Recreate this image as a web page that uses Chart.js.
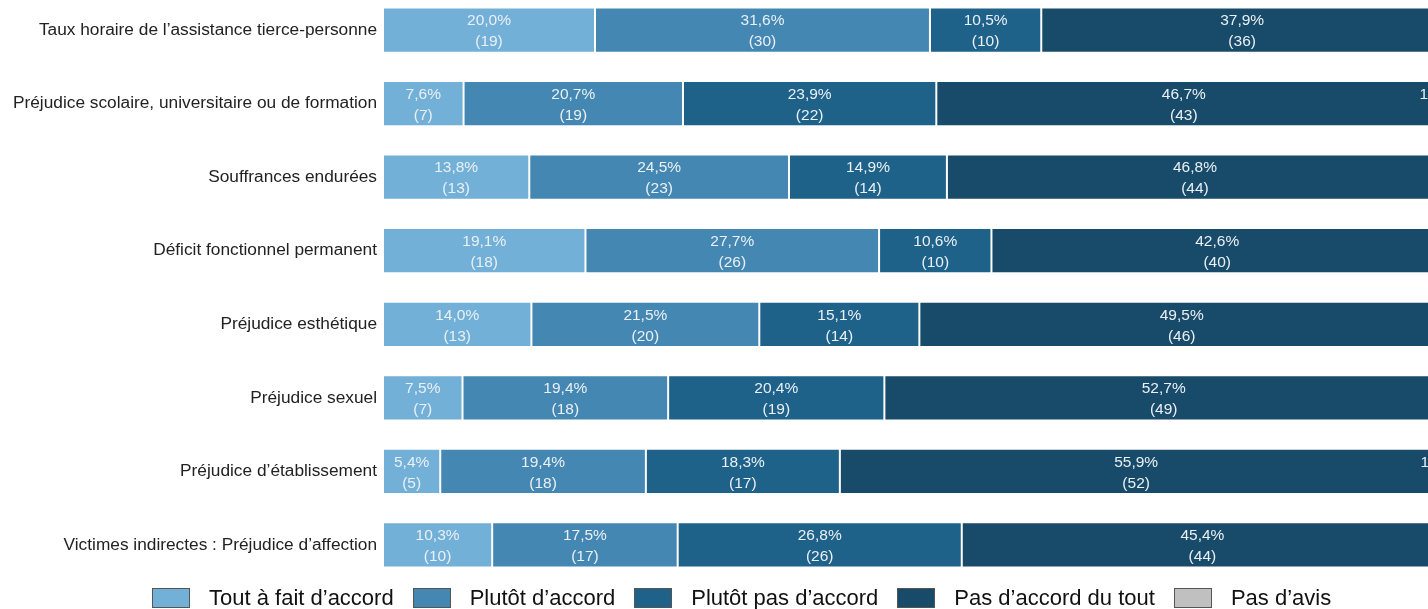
<!DOCTYPE html>
<html lang="fr">
<head>
<meta charset="utf-8">
<title>Barème – avis des répondants</title>
<script src="https://cdn.jsdelivr.net/npm/chart.js@4.4.1/dist/chart.umd.min.js"></script>
<style>
  html, body { margin: 0; padding: 0; background: #fff; }
  body { width: 1428px; height: 609px; overflow: hidden; position: relative;
         font-family: "Liberation Sans", Arial, sans-serif; }
  #wrap { position: absolute; left: 0; top: -23px; width: 1450px; height: 621px; }
  #legend { position: absolute; left: 152px; top: 585px; display: flex; align-items: center;
            font-size: 22px; color: #111; white-space: nowrap; }
  #legend .item { display: flex; align-items: center; margin-right: 19px; }
  #legend .box { width: 36px; height: 18px; border: 1px solid #555; margin-right: 19px; }
</style>
</head>
<body>
<div id="wrap"><canvas id="chart"></canvas></div>
<div id="legend"></div>
<script>
// Categories (one horizontal bar each)
const categories = [
  "Taux horaire de l\u2019assistance tierce-personne",
  "Pr\u00e9judice scolaire, universitaire ou de formation",
  "Souffrances endur\u00e9es",
  "D\u00e9ficit fonctionnel permanent",
  "Pr\u00e9judice esth\u00e9tique",
  "Pr\u00e9judice sexuel",
  "Pr\u00e9judice d\u2019\u00e9tablissement",
  "Victimes indirectes : Pr\u00e9judice d\u2019affection"
];

// Answer levels
const seriesNames = [
  "Tout \u00e0 fait d\u2019accord",
  "Plut\u00f4t d\u2019accord",
  "Plut\u00f4t pas d\u2019accord",
  "Pas d\u2019accord du tout",
  "Pas d\u2019avis"
];
const seriesColors = ["#72b0d7", "#4487b3", "#1e6189", "#184a69", "#c0c0c0"];

// Shares (%) per answer level
const toutAFait   = [20.0, 7.6, 13.8, 19.1, 14.0, 7.5, 5.4, 10.3];
const plutotOui   = [31.6, 20.7, 24.5, 27.7, 21.5, 19.4, 19.4, 17.5];
const plutotNon   = [10.5, 23.9, 14.9, 10.6, 15.1, 20.4, 18.3, 26.8];
const pasDuTout   = [37.9, 46.7, 46.8, 42.6, 49.5, 52.7, 55.9, 45.4];
const sansAvis    = [null, 1.1, null, null, null, null, 1.1, null];

// Respondent counts per answer level
const nToutAFait  = [19, 7, 13, 18, 13, 7, 5, 10];
const nPlutotOui  = [30, 19, 23, 26, 20, 18, 18, 17];
const nPlutotNon  = [10, 22, 14, 10, 14, 19, 17, 26];
const nPasDuTout  = [36, 43, 44, 40, 46, 49, 52, 44];
const nSansAvis   = [null, 1, null, null, null, null, 1, null];

const shares = [toutAFait, plutotOui, plutotNon, pasDuTout, sansAvis];
const counts = [nToutAFait, nPlutotOui, nPlutotNon, nPasDuTout, nSansAvis];

const datasets = seriesNames.map((name, i) => ({
  label: name,
  data: shares[i],
  counts: counts[i],
  backgroundColor: seriesColors[i],
  borderColor: "rgba(255,255,255,0.22)",
  borderWidth: 1,
  borderSkipped: false,
  barPercentage: 0.615,
  categoryPercentage: 1.0
}));

// Two-line value labels (share, then count) centred in each segment
const segmentLabels = {
  id: "segmentLabels",
  afterDatasetsDraw(chart) {
    const ctx = chart.ctx;
    ctx.save();
    ctx.font = "15.5px 'Liberation Sans', Arial, sans-serif";
    ctx.fillStyle = "#eaf0f5";
    ctx.textAlign = "center";
    ctx.textBaseline = "middle";
    chart.data.datasets.forEach((ds, di) => {
      const meta = chart.getDatasetMeta(di);
      meta.data.forEach((bar, j) => {
        const v = ds.data[j];
        if (v === null || v === undefined) return;
        const p = bar.getCenterPoint();
        ctx.fillText(v.toFixed(1).replace(".", ",") + "%", p.x, p.y - 9);
        ctx.fillText("(" + ds.counts[j] + ")", p.x, p.y + 12);
      });
    });
    ctx.restore();
  }
};

const chart = new Chart(document.getElementById("chart"), {
  type: "bar",
  data: { labels: categories, datasets },
  options: {
    indexAxis: "y",
    responsive: true,
    maintainAspectRatio: false,
    animation: false,
    layout: { padding: { top: 13, right: 7, bottom: 4, left: 0 } },
    scales: {
      x: { stacked: true, min: 0, max: 100, display: false },
      y: {
        stacked: true,
        grid: { display: false, drawTicks: false },
        border: { display: false },
        ticks: {
          color: "#222",
          padding: 6,
          font: { family: "'Liberation Sans', Arial, sans-serif", size: 17.3 }
        },
        afterFit(scale) { scale.width = 383; }
      }
    },
    plugins: {
      legend: { display: false },
      tooltip: { enabled: false }
    }
  },
  plugins: [segmentLabels]
});

// Legend built from the chart's datasets
const legendEl = document.getElementById("legend");
chart.data.datasets.forEach(ds => {
  const item = document.createElement("div");
  item.className = "item";
  const box = document.createElement("span");
  box.className = "box";
  box.style.background = ds.backgroundColor;
  const txt = document.createElement("span");
  txt.textContent = ds.label;
  item.appendChild(box);
  item.appendChild(txt);
  legendEl.appendChild(item);
});
</script>
</body>
</html>
